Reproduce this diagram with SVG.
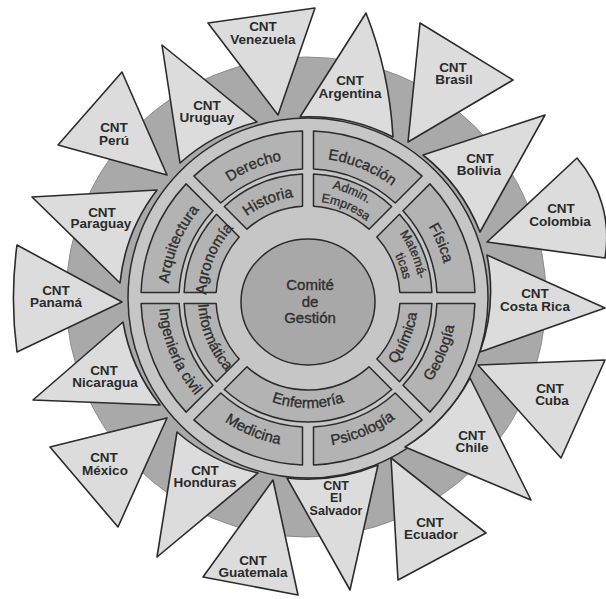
<svg xmlns="http://www.w3.org/2000/svg" width="606" height="599" viewBox="0 0 606 599">
<style>
.tri{fill:#dcdcdc;stroke:#2b2b2b;stroke-width:1.6;stroke-linejoin:round}
.seg{fill:#b3b3b3;stroke:#2b2b2b;stroke-width:1.5;stroke-linejoin:round}
.lbl{font-family:"Liberation Sans",Arial,sans-serif;font-weight:bold;font-size:13.5px;fill:#2a2a2a;text-anchor:middle}
.st{font-family:"Liberation Sans",Arial,sans-serif;font-size:15px;fill:#2e2e2e;stroke:#2e2e2e;stroke-width:0.35;text-anchor:middle}
.st2{font-family:"Liberation Sans",Arial,sans-serif;font-size:12.5px;fill:#2e2e2e;stroke:#2e2e2e;stroke-width:0.3;text-anchor:middle}
</style>
<defs>
<path id="p-arq" d="M174.48 340.10 A140 140 0 0 1 243.36 173.82"/>
<path id="p-der" d="M183.82 233.36 A140 140 0 0 1 350.10 164.48"/>
<path id="p-edu" d="M265.90 164.48 A140 140 0 0 1 432.18 233.36"/>
<path id="p-fis" d="M372.64 173.82 A140 140 0 0 1 441.52 340.10"/>
<path id="p-geo" d="M376.79 430.16 A149 149 0 0 0 450.10 253.20"/>
<path id="p-psi" d="M263.20 440.10 A149 149 0 0 0 440.16 366.79"/>
<path id="p-med" d="M175.84 366.79 A149 149 0 0 0 352.80 440.10"/>
<path id="p-ing" d="M165.90 253.20 A149 149 0 0 0 239.21 430.16"/>
<path id="p-agr" d="M210.73 328.67 A102 102 0 0 1 260.91 207.56"/>
<path id="p-his" d="M217.53 250.91 A102 102 0 0 1 338.67 200.73"/>
<path id="p-adm1" d="M274.31 191.18 A112 112 0 0 1 407.35 246.29"/>
<path id="p-adm2" d="M278.83 205.79 A97 97 0 0 1 394.04 253.22"/>
<path id="p-mat1" d="M359.71 198.66 A112 112 0 0 1 414.81 331.68"/>
<path id="p-mat2" d="M352.79 211.96 A97 97 0 0 1 400.51 327.17"/>
<path id="p-qui" d="M358.79 395.57 A110 110 0 0 0 412.91 264.92"/>
<path id="p-enf" d="M237.29 382.26 A110 110 0 0 0 378.71 382.26"/>
<path id="p-inf" d="M203.09 264.92 A110 110 0 0 0 257.21 395.57"/>
</defs>
<g id="background">
<circle cx="306" cy="297" r="240" fill="#a9a9a9" stroke="#8c8c8c" stroke-width="1"/>
<circle cx="308" cy="298" r="180" fill="#c6c6c6" stroke="#2b2b2b" stroke-width="1.5"/>
</g>
<g id="seg-geologia"><path class="seg" d="M474.91 303.5 A167 167 0 0 1 429.91 412.13 L403.02 385.24 A129 129 0 0 0 436.88 303.5 Z"/><text class="st"><textPath href="#p-geo" startOffset="50%">Geología</textPath></text></g>
<g id="seg-psicologia"><path class="seg" d="M422.13 419.91 A167 167 0 0 1 313.5 464.91 L313.5 426.88 A129 129 0 0 0 395.24 393.02 Z"/><text class="st"><textPath href="#p-psi" startOffset="50%">Psicología</textPath></text></g>
<g id="seg-medicina"><path class="seg" d="M302.5 464.91 A167 167 0 0 1 193.87 419.91 L220.76 393.02 A129 129 0 0 0 302.5 426.88 Z"/><text class="st"><textPath href="#p-med" startOffset="50%">Medicina</textPath></text></g>
<g id="seg-ingenieria"><path class="seg" d="M186.09 412.13 A167 167 0 0 1 141.09 303.5 L179.12 303.5 A129 129 0 0 0 212.98 385.24 Z"/><text class="st"><textPath href="#p-ing" startOffset="50%">Ingeniería civil</textPath></text></g>
<g id="seg-arquitectura"><path class="seg" d="M141.09 292.5 A167 167 0 0 1 186.09 183.87 L212.98 210.76 A129 129 0 0 0 179.12 292.5 Z"/><text class="st"><textPath href="#p-arq" startOffset="50%">Arquitectura</textPath></text></g>
<g id="seg-derecho"><path class="seg" d="M193.87 176.09 A167 167 0 0 1 302.5 131.09 L302.5 169.12 A129 129 0 0 0 220.76 202.98 Z"/><text class="st"><textPath href="#p-der" startOffset="50%">Derecho</textPath></text></g>
<g id="seg-educacion"><path class="seg" d="M313.5 131.09 A167 167 0 0 1 422.13 176.09 L395.24 202.98 A129 129 0 0 0 313.5 169.12 Z"/><text class="st"><textPath href="#p-edu" startOffset="50%">Educación</textPath></text></g>
<g id="seg-fisica"><path class="seg" d="M429.91 183.87 A167 167 0 0 1 474.91 292.5 L436.88 292.5 A129 129 0 0 0 403.02 210.76 Z"/><text class="st"><textPath href="#p-fis" startOffset="50%">Física</textPath></text></g>
<g id="seg-quimica"><path class="seg" d="M431.88 303.5 A124 124 0 0 1 399.49 381.71 L376.83 359.05 A92 92 0 0 0 399.84 303.5 Z"/><text class="st"><textPath href="#p-qui" startOffset="50%">Química</textPath></text></g>
<g id="seg-enfermeria"><path class="seg" d="M391.71 389.49 A124 124 0 0 1 224.29 389.49 L246.95 366.83 A92 92 0 0 0 369.05 366.83 Z"/><text class="st"><textPath href="#p-enf" startOffset="50%">Enfermería</textPath></text></g>
<g id="seg-informatica"><path class="seg" d="M216.51 381.71 A124 124 0 0 1 184.12 303.5 L216.16 303.5 A92 92 0 0 0 239.17 359.05 Z"/><text class="st"><textPath href="#p-inf" startOffset="50%">Informática</textPath></text></g>
<g id="seg-agronomia"><path class="seg" d="M184.12 292.5 A124 124 0 0 1 216.51 214.29 L239.17 236.95 A92 92 0 0 0 216.16 292.5 Z"/><text class="st"><textPath href="#p-agr" startOffset="50%">Agronomía</textPath></text></g>
<g id="seg-historia"><path class="seg" d="M224.29 206.51 A124 124 0 0 1 302.5 174.12 L302.5 206.16 A92 92 0 0 0 246.95 229.17 Z"/><text class="st"><textPath href="#p-his" startOffset="50%">Historia</textPath></text></g>
<g id="seg-admin"><path class="seg" d="M313.5 174.12 A124 124 0 0 1 391.71 206.51 L369.05 229.17 A92 92 0 0 0 313.5 206.16 Z"/><text class="st2"><textPath href="#p-adm1" startOffset="50%">Admin.</textPath></text><text class="st2"><textPath href="#p-adm2" startOffset="50%">Empresa</textPath></text></g>
<g id="seg-matematicas"><path class="seg" d="M399.49 214.29 A124 124 0 0 1 431.88 292.5 L399.84 292.5 A92 92 0 0 0 376.83 236.95 Z"/><text class="st2"><textPath href="#p-mat1" startOffset="50%">Matemá-</textPath></text><text class="st2"><textPath href="#p-mat2" startOffset="55%">ticas</textPath></text></g>
<g id="comite">
<ellipse cx="308" cy="302" rx="67" ry="63" fill="#a8a8a8" stroke="#2b2b2b" stroke-width="1.5"/>
<text class="st" x="310" y="290">Comité</text>
<text class="st" x="310" y="307">de</text>
<text class="st" x="310" y="323">Gestión</text>
</g>
<g id="cnt-venezuela"><path class="tri" d="M278 115 L208 23 L315 8 Z"/><text class="lbl" x="263" y="31">CNT</text><text class="lbl" x="263" y="44">Venezuela</text></g>
<g id="cnt-argentina"><path class="tri" d="M300 117 L366 13 A400 400 0 0 1 393 137 A183 183 0 0 0 300 117 Z"/><text class="lbl" x="350" y="85">CNT</text><text class="lbl" x="350" y="98">Argentina</text></g>
<g id="cnt-brasil"><path class="tri" d="M408 142 L420 23 L513 80 Z"/><text class="lbl" x="453" y="72">CNT</text><text class="lbl" x="454" y="84">Brasil</text></g>
<g id="cnt-bolivia"><path class="tri" d="M423 155 L545 115 L480 232 A183 183 0 0 0 423 155 Z"/><text class="lbl" x="480" y="163">CNT</text><text class="lbl" x="479" y="175">Bolivia</text></g>
<g id="cnt-colombia"><path class="tri" d="M487 242 L577 158 A121 121 0 0 1 605 258 Z"/><text class="lbl" x="561" y="213">CNT</text><text class="lbl" x="560" y="226">Colombia</text></g>
<g id="cnt-costarica"><path class="tri" d="M487 255 L605 308 L480 352 A183 183 0 0 0 487 255 Z"/><text class="lbl" x="535" y="298">CNT</text><text class="lbl" x="535" y="311">Costa Rica</text></g>
<g id="cnt-cuba"><path class="tri" d="M478 365 L605 360 L561 458 Z"/><text class="lbl" x="550" y="393">CNT</text><text class="lbl" x="552" y="405">Cuba</text></g>
<g id="cnt-chile"><path class="tri" d="M470 378 L531 500 L405 447 A183 183 0 0 0 470 378 Z"/><text class="lbl" x="472" y="440">CNT</text><text class="lbl" x="472" y="452">Chile</text></g>
<g id="cnt-ecuador"><path class="tri" d="M391 458 L486 533 L398 580 Z"/><text class="lbl" x="430" y="527">CNT</text><text class="lbl" x="431" y="539">Ecuador</text></g>
<g id="cnt-elsalvador"><path class="tri" d="M378 465 L350 590 L287 478 A183 183 0 0 0 378 465 Z"/><text class="lbl" style="font-size:12.5px" x="336" y="490">CNT</text><text class="lbl" style="font-size:12.5px" x="336" y="502">El</text><text class="lbl" style="font-size:12.5px" x="336" y="515">Salvador</text></g>
<g id="cnt-guatemala"><path class="tri" d="M273 480 L203 577 L298 595 Z"/><text class="lbl" x="253" y="565">CNT</text><text class="lbl" x="253" y="577">Guatemala</text></g>
<g id="cnt-honduras"><path class="tri" d="M258 473 L157 557 L177 432 A183 183 0 0 0 258 473 Z"/><text class="lbl" x="205" y="475">CNT</text><text class="lbl" x="205" y="487">Honduras</text></g>
<g id="cnt-mexico"><path class="tri" d="M167 418 L50 447 L118 527 Z"/><text class="lbl" x="104" y="462">CNT</text><text class="lbl" x="105" y="475">México</text></g>
<g id="cnt-nicaragua"><path class="tri" d="M160 405 L33 400 L123 322 A183 183 0 0 0 160 405 Z"/><text class="lbl" x="104" y="375">CNT</text><text class="lbl" x="105" y="387">Nicaragua</text></g>
<g id="cnt-panama"><path class="tri" d="M122 302 L17 245 A400 400 0 0 0 17 352 Z"/><text class="lbl" x="56" y="295">CNT</text><text class="lbl" x="56" y="307">Panamá</text></g>
<g id="cnt-paraguay"><path class="tri" d="M120 283 L32 197 L157 190 A183 183 0 0 0 120 283 Z"/><text class="lbl" x="102" y="217">CNT</text><text class="lbl" x="101" y="228">Paraguay</text></g>
<g id="cnt-peru"><path class="tri" d="M167 175 L122 72 L58 145 Z"/><text class="lbl" x="114" y="132">CNT</text><text class="lbl" x="114" y="145">Perú</text></g>
<g id="cnt-uruguay"><path class="tri" d="M180 163 L162 45 L257 122 A183 183 0 0 0 180 163 Z"/><text class="lbl" x="207" y="110">CNT</text><text class="lbl" x="207" y="122">Uruguay</text></g>
</svg>
